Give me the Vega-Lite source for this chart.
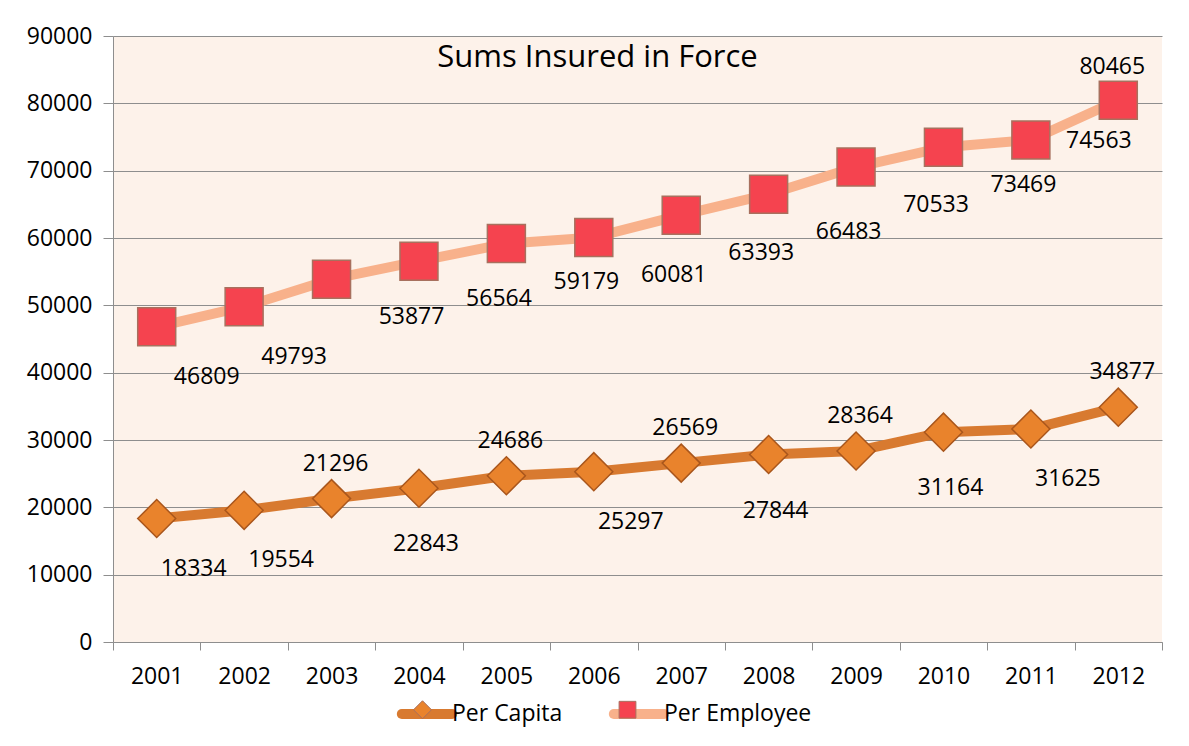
{
  "$schema": "https://vega.github.io/schema/vega-lite/v6.json",
  "width": 1049,
  "height": 606,
  "autosize": {"type": "none"},
  "padding": {"left": 113, "top": 36, "right": 27, "bottom": 104},
  "background": "#FFFFFF",
  "title": {
    "text": "Sums Insured in Force",
    "fontSize": 31,
    "font": "Open Sans",
    "fontWeight": "normal",
    "color": "#000000",
    "offset": -49,
    "anchor": "middle",
    "frame": "group",
    "dx": -40
  },
  "data": {
    "values": [
      {"year": 2001, "series": "Per Capita", "value": 18334},
      {"year": 2002, "series": "Per Capita", "value": 19554},
      {"year": 2003, "series": "Per Capita", "value": 21296},
      {"year": 2004, "series": "Per Capita", "value": 22843},
      {"year": 2005, "series": "Per Capita", "value": 24686},
      {"year": 2006, "series": "Per Capita", "value": 25297},
      {"year": 2007, "series": "Per Capita", "value": 26569},
      {"year": 2008, "series": "Per Capita", "value": 27844},
      {"year": 2009, "series": "Per Capita", "value": 28364},
      {"year": 2010, "series": "Per Capita", "value": 31164},
      {"year": 2011, "series": "Per Capita", "value": 31625},
      {"year": 2012, "series": "Per Capita", "value": 34877},
      {"year": 2001, "series": "Per Employee", "value": 46809},
      {"year": 2002, "series": "Per Employee", "value": 49793},
      {"year": 2003, "series": "Per Employee", "value": 53877},
      {"year": 2004, "series": "Per Employee", "value": 56564},
      {"year": 2005, "series": "Per Employee", "value": 59179},
      {"year": 2006, "series": "Per Employee", "value": 60081},
      {"year": 2007, "series": "Per Employee", "value": 63393},
      {"year": 2008, "series": "Per Employee", "value": 66483},
      {"year": 2009, "series": "Per Employee", "value": 70533},
      {"year": 2010, "series": "Per Employee", "value": 73469},
      {"year": 2011, "series": "Per Employee", "value": 74563},
      {"year": 2012, "series": "Per Employee", "value": 80465}
    ]
  },
  "encoding": {
    "x": {
      "field": "year",
      "type": "ordinal",
      "scale": {"paddingInner": 0, "paddingOuter": 0},
      "axis": {
        "title": null,
        "labelAngle": 0,
        "tickBand": "extent",
        "tickSize": 8,
        "labelPadding": 15,
        "labelFontSize": 23,
        "labelFont": "Open Sans",
        "labelColor": "#000000",
        "domainColor": "#8E8E8E",
        "tickColor": "#8E8E8E",
        "grid": false
      }
    },
    "y": {
      "field": "value",
      "type": "quantitative",
      "scale": {"domain": [0, 90000], "nice": false},
      "axis": {
        "title": null,
        "values": [0, 10000, 20000, 30000, 40000, 50000, 60000, 70000, 80000, 90000],
        "format": "d",
        "grid": true,
        "gridColor": "#8E8E8E",
        "gridWidth": 1,
        "tickSize": 10,
        "labelPadding": 11,
        "labelFontSize": 23,
        "labelFont": "Open Sans",
        "labelColor": "#000000",
        "domainColor": "#8E8E8E",
        "tickColor": "#8E8E8E"
      }
    }
  },
  "layer": [
    {
      "mark": {"type": "line", "strokeWidth": 10, "strokeCap": "round", "strokeJoin": "round"},
      "encoding": {
        "color": {
          "field": "series",
          "type": "nominal",
          "scale": {"domain": ["Per Capita", "Per Employee"], "range": ["#D87A30", "#F8B18B"]},
          "legend": {
            "orient": "none",
            "legendX": 279,
            "legendY": 661,
            "direction": "horizontal",
            "title": null,
            "labelFontSize": 23,
            "labelFont": "Open Sans",
            "labelColor": "#000000",
            "symbolSize": 576,
            "symbolOffset": 18,
            "labelOffset": 8,
            "columnPadding": 30,
            "symbolStrokeWidth": 10,
            "symbolType": "M-2.1,0H2.1",
            "encode": {"symbols": {"update": {"strokeCap": {"value": "round"}}}}
          }
        }
      }
    },
    {
      "mark": {"type": "point", "filled": true, "size": 1444, "opacity": 1, "strokeWidth": 1.5},
      "encoding": {
        "shape": {
          "condition": {"test": "datum.series === 'Per Capita'", "value": "diamond"},
          "value": "square"
        },
        "stroke": {
          "condition": {"test": "datum.series === 'Per Capita'", "value": "#A9561C"},
          "value": "#A8705E"
        },
        "fill": {
          "field": "series",
          "type": "nominal",
          "scale": {"range": ["#E9832C", "#F5434F"]},
          "legend": {
            "orient": "none",
            "legendX": 279,
            "legendY": 661,
            "direction": "horizontal",
            "title": null,
            "labelFontSize": 23,
            "labelFont": "Open Sans",
            "labelExpr": "''",
            "symbolSize": 576,
            "symbolOffset": 18,
            "labelOffset": 8,
            "columnPadding": 154,
            "symbolStrokeWidth": 1,
            "symbolStrokeColor": "#A8705E",
            "symbolType": {"expr": "datum.value === 'Per Capita' ? 'M0,-0.75L0.75,0L0,0.75L-0.75,0Z' : 'M-0.7,-0.7H0.7V0.7H-0.7Z'"}
          }
        }
      }
    },
    {
      "transform": [{"filter": {"and": [{"field": "series", "equal": "Per Employee"}, {"field": "year", "oneOf": [2001, 2002]}]}}],
      "mark": {"type": "text", "fontSize": 23, "font": "Open Sans", "color": "#000000", "align": "center", "baseline": "middle", "dx": 50, "dy": 50},
      "encoding": {"text": {"field": "value", "type": "quantitative", "format": "d"}}
    },
    {
      "transform": [{"filter": {"and": [{"field": "series", "equal": "Per Employee"}, {"field": "year", "oneOf": [2003, 2004, 2005, 2006, 2007, 2008, 2009, 2010]}]}}],
      "mark": {"type": "text", "fontSize": 23, "font": "Open Sans", "color": "#000000", "align": "center", "baseline": "middle", "dx": 80, "dy": 38},
      "encoding": {"text": {"field": "value", "type": "quantitative", "format": "d"}}
    },
    {
      "transform": [{"filter": {"and": [{"field": "series", "equal": "Per Employee"}, {"field": "year", "oneOf": [2011]}]}}],
      "mark": {"type": "text", "fontSize": 23, "font": "Open Sans", "color": "#000000", "align": "center", "baseline": "middle", "dx": 68, "dy": 1},
      "encoding": {"text": {"field": "value", "type": "quantitative", "format": "d"}}
    },
    {
      "transform": [{"filter": {"and": [{"field": "series", "equal": "Per Employee"}, {"field": "year", "oneOf": [2012]}]}}],
      "mark": {"type": "text", "fontSize": 23, "font": "Open Sans", "color": "#000000", "align": "center", "baseline": "middle", "dx": -6, "dy": -33},
      "encoding": {"text": {"field": "value", "type": "quantitative", "format": "d"}}
    },
    {
      "transform": [{"filter": {"and": [{"field": "series", "equal": "Per Capita"}, {"field": "year", "oneOf": [2001, 2002, 2006, 2011]}]}}],
      "mark": {"type": "text", "fontSize": 23, "font": "Open Sans", "color": "#000000", "align": "center", "baseline": "middle", "dx": 37, "dy": 50},
      "encoding": {"text": {"field": "value", "type": "quantitative", "format": "d"}}
    },
    {
      "transform": [{"filter": {"and": [{"field": "series", "equal": "Per Capita"}, {"field": "year", "oneOf": [2004, 2008, 2010]}]}}],
      "mark": {"type": "text", "fontSize": 23, "font": "Open Sans", "color": "#000000", "align": "center", "baseline": "middle", "dx": 7, "dy": 56},
      "encoding": {"text": {"field": "value", "type": "quantitative", "format": "d"}}
    },
    {
      "transform": [{"filter": {"and": [{"field": "series", "equal": "Per Capita"}, {"field": "year", "oneOf": [2003, 2005, 2007, 2009, 2012]}]}}],
      "mark": {"type": "text", "fontSize": 23, "font": "Open Sans", "color": "#000000", "align": "center", "baseline": "middle", "dx": 4, "dy": -35},
      "encoding": {"text": {"field": "value", "type": "quantitative", "format": "d"}}
    }
  ],
  "config": {
    "view": {"fill": "#FDF2EA", "stroke": null}
  }
}
